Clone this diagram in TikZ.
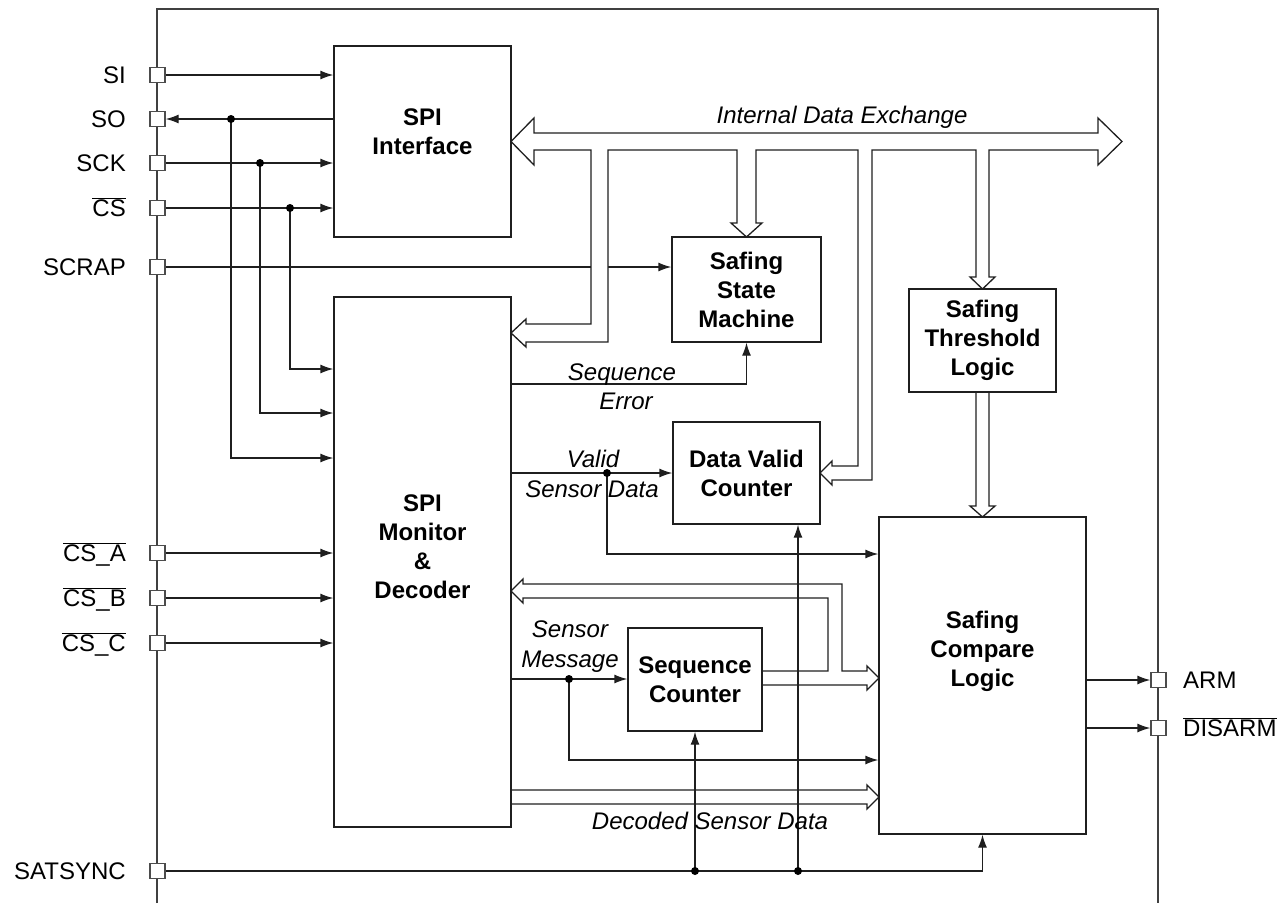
\documentclass[tikz,border=0pt]{standalone}
\usepackage{fontspec}
\setmainfont{Liberation Sans}
\usetikzlibrary{arrows.meta}
\newcommand\ovl[1]{\ensuremath{\overline{\mbox{#1}}}}
\tikzset{
  ln/.style={line width=1.3pt, draw=black!88},
  sig/.style={ln, -{Latex[length=13pt,width=9pt]}},
  blk/.style={ln, rectangle, inner sep=0pt, font=\bfseries\fontsize{24}{29}\selectfont, align=center},
  btxt/.style={inner sep=0pt, font=\bfseries\fontsize{24}{29}\selectfont, align=center},
  pin/.style={ln, draw=black!70, fill=white, rectangle, minimum size=15pt, inner sep=0pt},
  lbl/.style={inner sep=0pt, font=\fontsize{24}{29}\selectfont},
  ital/.style={inner sep=0pt, font=\itshape\fontsize{24}{29}\selectfont},
  bus/.style={ln, fill=white, line join=miter},
  dotc/.style={fill=black},
}
\begin{document}
\begin{tikzpicture}[x=1pt,y=-1pt]
\useasboundingbox (0,0) rectangle (1288,903);
% outer border
\draw[ln, draw=black!75] (157,903) -- (157,9) -- (1158,9) -- (1158,903);

% blocks
\node[blk, minimum width=177pt, minimum height=191pt] (spi) at (422.5,141.5) {};
\node[blk, minimum width=177pt, minimum height=530pt] (mon) at (422.5,562) {};
\node[blk, minimum width=149pt, minimum height=105pt] (ssm) at (746.5,289.5) {Safing\\State\\Machine};
\node[blk, minimum width=147pt, minimum height=103pt] (thr) at (982.5,340.5) {Safing\\Threshold\\Logic};
\node[blk, minimum width=147pt, minimum height=102pt] (dvc) at (746.5,473) {Data Valid\\Counter};
\node[blk, minimum width=134pt, minimum height=103pt] (sc) at (695,679.5) {Sequence\\Counter};
\node[blk, minimum width=207pt, minimum height=317pt] (cmp) at (982.5,675.5) {};

% pins
\node[pin] (pSI) at (157.5,75) {};
\node[pin] (pSO) at (157.5,119) {};
\node[pin] (pSCK) at (157.5,163) {};
\node[pin] (pCS) at (157.5,208) {};
\node[pin] (pSCRAP) at (157.5,267) {};
\node[pin] (pCSA) at (157.5,553) {};
\node[pin] (pCSB) at (157.5,598) {};
\node[pin] (pCSC) at (157.5,643) {};
\node[pin] (pSAT) at (157.5,871) {};
\node[pin] (pARM) at (1158.5,680) {};
\node[pin] (pDIS) at (1158.5,728) {};

% junction / row coordinates
\coordinate (jSO) at (231,119);
\coordinate (jSCK) at (260,163);
\coordinate (jCS) at (290,208);
\coordinate (rSO) at (0,458);
\coordinate (rSCK) at (0,413);
\coordinate (rCS) at (0,369);
\coordinate (rSE) at (0,384);
\coordinate (rV) at (0,473);
\coordinate (jV) at (607,473);
\coordinate (rV2) at (0,554);
\coordinate (rSM) at (0,679);
\coordinate (jSM) at (569,679);
\coordinate (rSM2) at (0,760);
\coordinate (jS1) at (695,871);
\coordinate (jS2) at (798,871);

% signal lines
\draw[sig] (pSI.east) -- (spi.west |- pSI);
\draw[sig] (spi.west |- pSO) -- (pSO.east);
\draw[sig] (pSCK.east) -- (spi.west |- pSCK);
\draw[sig] (pCS.east) -- (spi.west |- pCS);
\draw[sig] (pSCRAP.east) -- (ssm.west |- pSCRAP);
\draw[sig] (jSO) |- (mon.west |- rSO);
\draw[sig] (jSCK) |- (mon.west |- rSCK);
\draw[sig] (jCS) |- (mon.west |- rCS);
\draw[sig] (pCSA.east) -- (mon.west |- pCSA);
\draw[sig] (pCSB.east) -- (mon.west |- pCSB);
\draw[sig] (pCSC.east) -- (mon.west |- pCSC);
\draw[sig] (mon.east |- rSE) -| (ssm.south);
\draw[sig] (mon.east |- rV) -- (dvc.west |- rV);
\draw[sig] (jV) |- (cmp.west |- rV2);
\draw[sig] (mon.east |- rSM) -- (sc.west |- rSM);
\draw[sig] (jSM) |- (cmp.west |- rSM2);
\draw[sig] (pSAT.east) -| (cmp.south);
\draw[sig] (cmp.east |- pARM) -- (pARM.west);
\draw[sig] (cmp.east |- pDIS) -- (pDIS.west);

% buses
\draw[bus] (511,141.5) -- (534,118) -- (534,133) -- (1098,133) -- (1098,118) -- (1122,141.5) -- (1098,165) -- (1098,150)
  -- (989,150) -- (989,277) -- (995,277) -- (982.5,289) -- (970,277) -- (976,277) -- (976,150)
  -- (872,150) -- (872,480) -- (832,480) -- (832,485) -- (820,473) -- (832,461) -- (832,466) -- (858,466) -- (858,150)
  -- (756,150) -- (756,223) -- (762,223) -- (746.5,237) -- (731,223) -- (737,223) -- (737,150)
  -- (608,150) -- (608,342) -- (526,342) -- (526,347) -- (511,333) -- (526,319) -- (526,324) -- (591,324) -- (591,150)
  -- (534,150) -- (534,165) -- cycle;
\draw[bus] (976,392) -- (976,506) -- (970,506) -- (982.5,517) -- (995,506) -- (989,506) -- (989,392);
\draw[bus] (511,790) -- (867,790) -- (867,785) -- (879,797) -- (867,809) -- (867,804) -- (511,804);
\draw[bus] (762,671) -- (828,671) -- (828,598) -- (523,598) -- (523,603) -- (511,591) -- (523,579) -- (523,584)
  -- (842,584) -- (842,671) -- (867,671) -- (867,666) -- (879,678) -- (867,690) -- (867,685) -- (762,685);

% SATSYNC risers drawn over buses
\draw[sig] (jS1) -- (sc.south);
\draw[sig] (jS2) -- (jS2 |- dvc.south);

% redraw box outlines over buses
\draw[ln] (spi.north west) rectangle (spi.south east);
\draw[ln] (mon.north west) rectangle (mon.south east);
\draw[ln] (ssm.north west) rectangle (ssm.south east);
\draw[ln] (dvc.north west) rectangle (dvc.south east);
\draw[ln] (sc.north west) rectangle (sc.south east);
\draw[ln] (cmp.north west) rectangle (cmp.south east);
\draw[ln] (thr.north west) rectangle (thr.south east);

% dots
\fill[dotc] (jSO) circle (4pt);
\fill[dotc] (jSCK) circle (4pt);
\fill[dotc] (jCS) circle (4pt);
\fill[dotc] (jV) circle (4pt);
\fill[dotc] (jSM) circle (4pt);
\fill[dotc] (jS1) circle (4pt);
\fill[dotc] (jS2) circle (4pt);

% block texts
\node[btxt] (tspi) at (422.5,131.5) {SPI\\Interface};
\node[btxt] (tmon) at (422.5,547) {SPI\\Monitor\\\&\\Decoder};
\node[btxt] (tcmp) at (982.5,651.5) {Safing\\Compare\\Logic};

% pin labels
\node[lbl, anchor=base east] at (126,83.5) {SI};
\node[lbl, anchor=base east] at (126,127.5) {SO};
\node[lbl, anchor=base east] at (126,171.5) {SCK};
\node[lbl, anchor=base east] at (126,216.5) {\ovl{CS}};
\node[lbl, anchor=base east] at (126,275.5) {SCRAP};
\node[lbl, anchor=base east] at (126,561.5) {\ovl{CS\_A}};
\node[lbl, anchor=base east] at (126,606.5) {\ovl{CS\_B}};
\node[lbl, anchor=base east] at (126,651.5) {\ovl{CS\_C}};
\node[lbl, anchor=base east] at (126,879.5) {SATSYNC};
\node[lbl, anchor=base west] at (1183,688.5) {ARM};
\node[lbl, anchor=base west] at (1183,736.5) {\ovl{DISARM}};

% italic labels
\node[ital, anchor=base] at (842,123) {Internal Data Exchange};
\node[ital, anchor=base] at (622,380) {Sequence};
\node[ital, anchor=base] at (626,409) {Error};
\node[ital, anchor=base] at (593,467) {Valid};
\node[ital, anchor=base] at (592,497) {Sensor Data};
\node[ital, anchor=base] at (570,637) {Sensor};
\node[ital, anchor=base] at (570,667) {Message};
\node[ital, anchor=base] at (710,829) {Decoded Sensor Data};
\end{tikzpicture}
\end{document}
